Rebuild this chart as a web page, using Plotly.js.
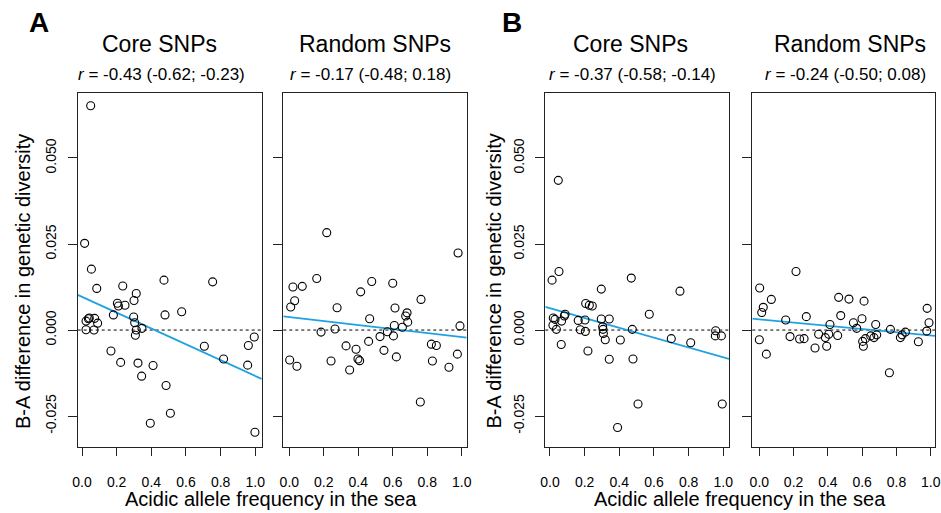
<!DOCTYPE html>
<html>
<head>
<meta charset="utf-8">
<script src="https://cdn.plot.ly/plotly-3.0.1.min.js"></script>
<style>html,body{margin:0;padding:0;background:#fff;}#chart{width:941px;height:513px;}</style>
</head>
<body>
<div id="chart"></div>
<script>
// ---- Data ----
const panelTitles = ["Core SNPs", "Random SNPs", "Core SNPs", "Random SNPs"];
const corrLabels = ["-0.43 (-0.62; -0.23)", "-0.17 (-0.48; 0.18)", "-0.37 (-0.58; -0.14)", "-0.24 (-0.50; 0.08)"];
const panelLetters = ["A", "B"];
const xTitle = "Acidic allele frequency in the sea";
const yTitle = "B-A difference in genetic diversity";
const xTickVals = [0, 0.2, 0.4, 0.6, 0.8, 1.0];
const xTickText = ["0.0", "0.2", "0.4", "0.6", "0.8", "1.0"];
const yTickVals = [-0.025, 0, 0.025, 0.05];
const yTickText = ["-0.025", "0.000", "0.025", "0.050"];

const coreA_x = [0.05, 0.015, 0.054, 0.085, 0.235, 0.313, 0.30, 0.204, 0.21, 0.248, 0.181, 0.298, 0.304, 0.313, 0.308, 0.346, 0.023, 0.037, 0.042, 0.073, 0.09, 0.023, 0.069, 0.473, 0.754, 0.479, 0.575, 0.167, 0.223, 0.323, 0.41, 0.344, 0.485, 0.51, 0.394, 0.706, 0.817, 0.96, 0.994, 0.956, 0.998];
const coreA_y = [0.0652, 0.0252, 0.0177, 0.0121, 0.0128, 0.0106, 0.0086, 0.0078, 0.0070, 0.0072, 0.0044, 0.0038, 0.0021, 0.0000, -0.0015, 0.0005, 0.0026, 0.0033, 0.0035, 0.0034, 0.0020, 0.0001, 0.0000, 0.0145, 0.0140, 0.0044, 0.0053, -0.0061, -0.0094, -0.0096, -0.0103, -0.0134, -0.0161, -0.0242, -0.0271, -0.0047, -0.0084, -0.0045, -0.0020, -0.0102, -0.0297];

const randA_x = [0.217, 0.979, 0.159, 0.021, 0.075, 0.478, 0.60, 0.414, 0.031, 0.008, 0.277, 0.764, 0.613, 0.683, 0.675, 0.687, 0.466, 0.609, 0.656, 0.99, 0.265, 0.184, 0.569, 0.526, 0.604, 0.46, 0.329, 0.387, 0.398, 0.408, 0.549, 0.621, 0.824, 0.853, 0.83, 0.975, 0.926, 0.002, 0.044, 0.242, 0.35, 0.76];
const randA_y = [0.0283, 0.0224, 0.0150, 0.0125, 0.0127, 0.0141, 0.0136, 0.0111, 0.0085, 0.0067, 0.0065, 0.0089, 0.0064, 0.0050, 0.0041, 0.0023, 0.0033, 0.0013, 0.0008, 0.0012, 0.0003, -0.0006, -0.0005, -0.0019, -0.0017, -0.0033, -0.0046, -0.0056, -0.0084, -0.0089, -0.0059, -0.0078, -0.0041, -0.0045, -0.0090, -0.0070, -0.0108, -0.0087, -0.0105, -0.0090, -0.0116, -0.0209];

const coreB_x = [0.048, 0.012, 0.052, 0.296, 0.469, 0.75, 0.206, 0.227, 0.244, 0.087, 0.083, 0.019, 0.029, 0.067, 0.017, 0.037, 0.163, 0.202, 0.175, 0.204, 0.296, 0.342, 0.304, 0.306, 0.308, 0.319, 0.406, 0.475, 0.573, 0.065, 0.219, 0.342, 0.479, 0.508, 0.39, 0.70, 0.812, 0.956, 0.954, 0.989, 0.994];
const coreB_y = [0.0435, 0.0145, 0.0170, 0.0119, 0.0151, 0.0113, 0.0077, 0.0072, 0.0070, 0.0046, 0.0041, 0.0035, 0.0031, 0.0026, 0.0014, 0.0002, 0.0028, 0.0029, 0.0001, -0.0004, 0.0032, 0.0032, 0.0010, 0.0002, -0.0010, -0.0028, -0.0029, 0.0002, 0.0046, -0.0042, -0.0061, -0.0085, -0.0084, -0.0215, -0.0283, -0.0025, -0.0037, -0.0002, -0.0017, -0.0017, -0.0215];

const randB_x = [0.214, 0.002, 0.07, 0.023, 0.014, 0.0, 0.041, 0.154, 0.274, 0.179, 0.235, 0.261, 0.325, 0.346, 0.385, 0.405, 0.412, 0.393, 0.463, 0.523, 0.475, 0.457, 0.549, 0.568, 0.611, 0.599, 0.603, 0.607, 0.619, 0.65, 0.669, 0.685, 0.679, 0.765, 0.759, 0.823, 0.833, 0.852, 0.928, 0.979, 0.99, 0.977];
const randB_y = [0.0170, 0.0122, 0.0089, 0.0066, 0.0051, -0.0028, -0.0070, 0.0029, 0.0039, -0.0019, -0.0026, -0.0025, -0.0052, -0.0012, -0.0022, -0.0012, 0.0016, -0.0047, 0.0095, 0.0090, 0.0042, -0.0016, 0.0021, 0.0005, 0.0084, 0.0033, -0.0033, -0.0047, -0.0025, -0.0017, -0.0022, -0.0014, 0.0016, 0.0002, -0.0124, -0.0022, -0.0014, -0.0006, -0.0034, 0.0063, 0.0021, -0.0003];

// regression lines (intercept, slope)
const fitIntercept = [0.00963, 0.0038, 0.00632, 0.00311];
const fitSlope = [-0.02298, -0.00583, -0.01425, -0.00469];

// ---- Layout helpers ----
const W = 941, H = 513;
const px = v => v / W, py = v => 1 - v / H;
const xRanges = [[-0.025, 1.037], [-0.035, 1.029], [-0.027, 1.033], [-0.041, 1.025]];
const xDomains = [[77.7, 261.7], [283.3, 466.7], [545.3, 729], [752.3, 935]];
const yRange = [-0.0339, 0.0688];
const yDomain = [py(446.7), py(93.3)];
const FONT = "Liberation Sans, Arial, Helvetica, sans-serif";
const BLUE = "#1fa2e1";

const xs = [coreA_x, randA_x, coreB_x, randB_x];
const ys = [coreA_y, randA_y, coreB_y, randB_y];

const traces = [];
const layout = {
  width: W, height: H,
  margin: {l: 0, r: 0, t: 0, b: 0},
  paper_bgcolor: "#fff", plot_bgcolor: "#fff",
  showlegend: false,
  font: {family: FONT, color: "#000"},
  shapes: [], annotations: []
};

for (let i = 0; i < 4; i++) {
  const s = i === 0 ? "" : String(i + 1);
  const xa = "x" + s, ya = "y" + s;
  const r = xRanges[i];
  traces.push({
    type: "scatter", mode: "lines", xaxis: xa, yaxis: ya,
    x: [r[0], r[1]],
    y: [fitIntercept[i] + fitSlope[i] * r[0], fitIntercept[i] + fitSlope[i] * r[1]],
    line: {color: BLUE, width: 1.8}, hoverinfo: "skip"
  });
  traces.push({
    type: "scatter", mode: "markers", x: xs[i], y: ys[i], xaxis: xa, yaxis: ya,
    marker: {symbol: "circle-open", size: 8, color: "#000", line: {width: 1.1, color: "#000"}},
    hoverinfo: "skip", cliponaxis: false
  });
  layout["xaxis" + s] = {
    domain: [px(xDomains[i][0]), px(xDomains[i][1])], range: r, anchor: ya,
    showgrid: false, zeroline: false, showline: true, mirror: true,
    linecolor: "#222", linewidth: 1,
    ticks: "outside", ticklen: 8, tickwidth: 1, tickcolor: "#222",
    tickvals: xTickVals, ticktext: xTickText, ticklabelstandoff: 14,
    tickfont: {family: FONT, size: 14, color: "#000"}
  };
  layout["yaxis" + s] = {
    domain: yDomain, range: yRange, anchor: xa,
    showgrid: false, zeroline: false, showline: true, mirror: true,
    linecolor: "#222", linewidth: 1,
    ticks: "outside", ticklen: 9, tickwidth: 1, tickcolor: "#222",
    tickvals: yTickVals, ticktext: yTickText, tickangle: -90,
    showticklabels: (i % 2 === 0), ticklabelstandoff: 6,
    tickfont: {family: FONT, size: 14, color: "#000"}
  };
  // dashed zero line
  layout.shapes.push({
    type: "line", xref: xa + " domain", yref: ya, x0: 0, x1: 1, y0: 0, y1: 0,
    line: {color: "#000", width: 1, dash: "3px,3px"}, layer: "below"
  });
}

// panel titles and correlation labels
const titleCx = [159, 375, 630, 850];
const corrCx = [161.7, 370, 632.5, 845.8];
for (let i = 0; i < 4; i++) {
  layout.annotations.push({
    xref: "paper", yref: "paper", x: px(titleCx[i]), y: py(44), xanchor: "center", yanchor: "middle",
    text: panelTitles[i], showarrow: false, font: {family: FONT, size: 23, color: "#000"}
  });
  layout.annotations.push({
    xref: "paper", yref: "paper", x: px(corrCx[i]), y: py(75), xanchor: "center", yanchor: "middle",
    text: "<i>r</i> = " + corrLabels[i], showarrow: false, font: {family: FONT, size: 17, color: "#000"}
  });
}
// panel letters
const letterCx = [39, 511.7];
for (let k = 0; k < 2; k++) {
  layout.annotations.push({
    xref: "paper", yref: "paper", x: px(letterCx[k]), y: py(23), xanchor: "center", yanchor: "middle",
    text: "<b>" + panelLetters[k] + "</b>", showarrow: false, font: {family: FONT, size: 28, color: "#000"}
  });
}
// axis titles (shared per block)
const xTitleCx = [271, 740];
const yTitleCx = [22.5, 493];
for (let k = 0; k < 2; k++) {
  layout.annotations.push({
    xref: "paper", yref: "paper", x: px(xTitleCx[k]), y: py(499), xanchor: "center", yanchor: "middle",
    text: xTitle, showarrow: false, font: {family: FONT, size: 20, color: "#000"}
  });
  layout.annotations.push({
    xref: "paper", yref: "paper", x: px(yTitleCx[k]), y: py(281.5), xanchor: "center", yanchor: "middle",
    text: yTitle, textangle: -90, showarrow: false, font: {family: FONT, size: 20, color: "#000"}
  });
}

Plotly.newPlot("chart", traces, layout, {staticPlot: true, displayModeBar: false});
</script>
</body>
</html>
